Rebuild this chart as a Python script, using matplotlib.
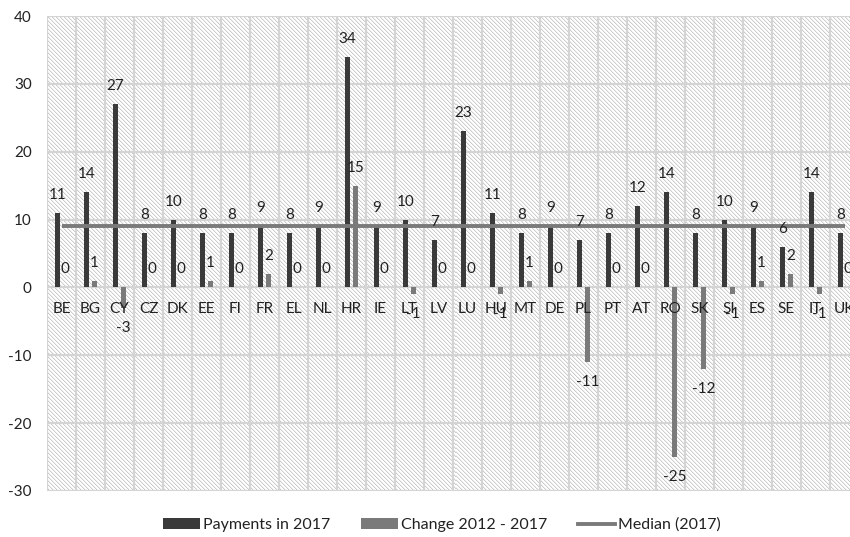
import matplotlib
matplotlib.use("Agg")
import matplotlib.pyplot as plt
from matplotlib.patches import Patch
from matplotlib.lines import Line2D
import numpy as np

countries = ["BE", "BG", "CY", "CZ", "DK", "EE", "FI", "FR", "EL", "NL", "HR", "IE",
             "LT", "LV", "LU", "HU", "MT", "DE", "PL", "PT", "AT", "RO", "SK", "SI",
             "ES", "SE", "IT", "UK"]
payments_2017 = [11, 14, 27, 8, 10, 8, 8, 9, 8, 9, 34, 9,
                 10, 7, 23, 11, 8, 9, 7, 8, 12, 14, 8, 10,
                 9, 6, 14, 8]
change_2012_2017 = [0, 1, -3, 0, 0, 1, 0, 2, 0, 0, 15, 0,
                    -1, 0, 0, -1, 1, 0, -11, 0, 0, -25, -12, -1,
                    1, 2, -1, 0]
median_2017 = 9
y_ticks = [-30, -20, -10, 0, 10, 20, 30, 40]

plt.rcParams["font.family"] = ["Lato", "DejaVu Sans"]

DARK = "#3a3a3a"
MID = "#7a7a7a"
GRID = "#d4d4d4"
TXT = "#222222"
FS = 11

W_PX, H_PX = 812, 475
fig = plt.figure(figsize=(8.5, 5.37), dpi=100)
ax = fig.add_axes([47 / 850, 46 / 537, W_PX / 850, H_PX / 537])

n = len(countries)
x = np.arange(n)
ax.set_xlim(-0.5, n - 0.5)
ax.set_ylim(-30, 40)

# fine diagonal hatch for the plot background
rr, cc = np.mgrid[0:H_PX, 0:W_PX]
phase = (cc - rr) % 4
shade = np.full((H_PX, W_PX), 1.0)
shade[phase == 0] = 0.80
shade[phase == 1] = 0.94
bg = np.dstack([shade, shade, shade])
ax.imshow(bg, extent=(-0.5, n - 0.5, -30, 40), aspect="auto",
          interpolation="nearest", zorder=0)

# grid: horizontal every 10, vertical at category boundaries
for yv in y_ticks:
    ax.axhline(yv, color=GRID, lw=1.6, zorder=1)
for xb in np.arange(-0.5, n, 1.0):
    ax.axvline(xb, color=GRID, lw=1.6, zorder=1)

for s in ax.spines.values():
    s.set_visible(False)

w = 0.18
ax.bar(x - 0.14, payments_2017, width=w, color=DARK, zorder=3)
ax.bar(x + 0.13, change_2012_2017, width=w, color=MID, zorder=3)

ax.plot(x, [median_2017] * n, color=MID, lw=2.8, zorder=4, solid_capstyle="butt")

# value labels
for xi, v in zip(x - 0.14, payments_2017):
    ax.annotate(str(v), (xi, v), xytext=(0, 13), textcoords="offset points",
                ha="center", va="center", fontsize=FS, color=TXT, zorder=5)
for xi, v in zip(x + 0.13, change_2012_2017):
    off = 13 if v >= 0 else -14.5
    ax.annotate(str(v), (xi, v), xytext=(0, off), textcoords="offset points",
                ha="center", va="center", fontsize=FS, color=TXT, zorder=5)

# category labels below the zero line
for xi, c in zip(x, countries):
    ax.annotate(c, (xi, 0), xytext=(0, -15.5), textcoords="offset points",
                ha="center", va="center", fontsize=FS, color=TXT, zorder=5)

ax.set_xticks([])
ax.set_yticks(y_ticks)
ax.set_yticklabels([str(t) for t in y_ticks], fontsize=FS, color=TXT)
ax.tick_params(axis="y", length=0, pad=11)

handles = [Patch(facecolor=DARK, edgecolor="none"),
           Patch(facecolor=MID, edgecolor="none"),
           Line2D([0], [0], color=MID, lw=2.8)]
labels = ["Payments in 2017", "Change 2012 - 2017", "Median (2017)"]
fig.legend(handles, labels, loc="center", bbox_to_anchor=(442 / 850, 1 - 525 / 537),
           ncol=3, frameon=False, fontsize=11.5, handlelength=2.3, handleheight=0.6,
           handletextpad=0.2, columnspacing=1.95, labelcolor=TXT,
           borderpad=0, borderaxespad=0)

fig.savefig("out.png", dpi=100)
